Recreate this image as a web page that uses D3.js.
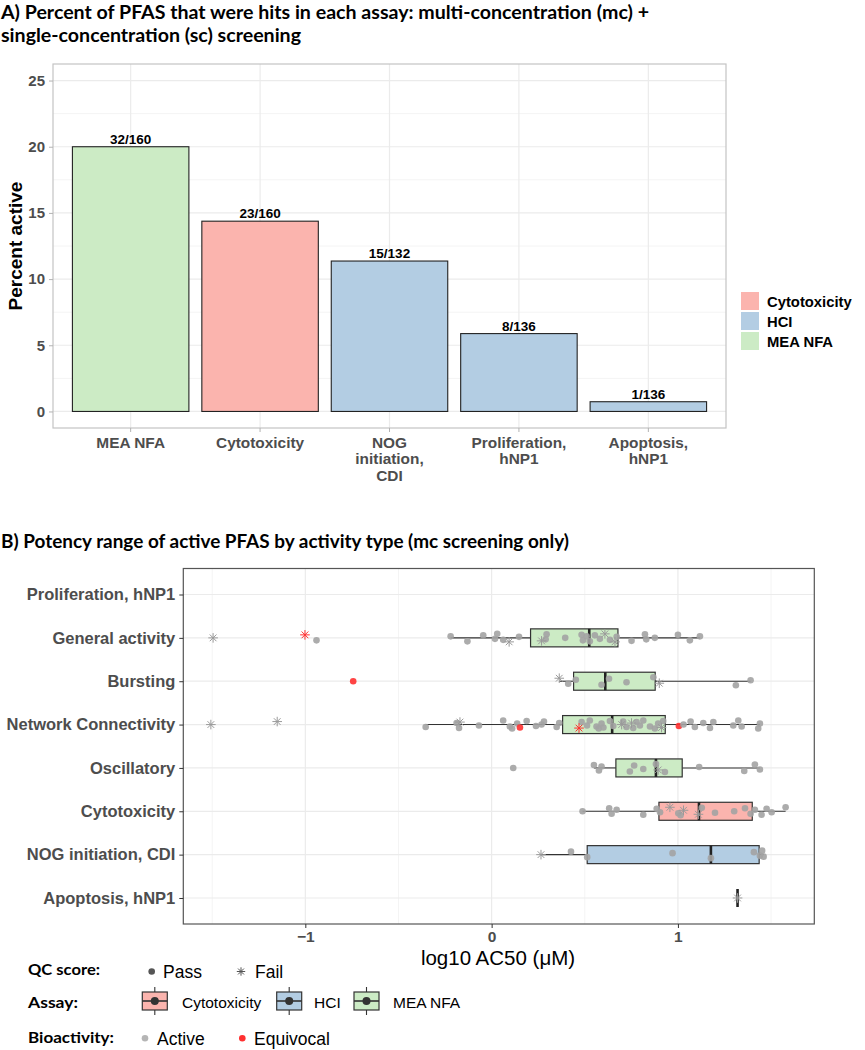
<!DOCTYPE html>
<html>
<head>
<meta charset="utf-8">
<script src="https://cdn.jsdelivr.net/npm/d3@7/dist/d3.min.js"></script>
<style>
  body { margin: 0; background: #fff; }
  svg { display: block; }
</style>
</head>
<body>
<svg id="chart" width="865" height="1050"></svg>
<script>
// ---- panel A data ----
const hitCategories = ['MEA NFA', 'Cytotoxicity', 'NOG initiation, CDI', 'Proliferation, hNP1', 'Apoptosis, hNP1']
const hitLabels = [['MEA NFA'], ['Cytotoxicity'], ['NOG', 'initiation,', 'CDI'], ['Proliferation,', 'hNP1'], ['Apoptosis,', 'hNP1']]
const hitCounts = [32, 23, 15, 8, 1]
const testedCounts = [160, 160, 132, 136, 136]
const hitAssay = ['MEA NFA', 'Cytotoxicity', 'HCI', 'HCI', 'HCI']
const percentTicks = [0, 5, 10, 15, 20, 25]

const assayNames = ['Cytotoxicity', 'HCI', 'MEA NFA']
const assayColors = ['#fbb4ae', '#b3cde3', '#ccebc5']

// ---- panel B data: [log10 AC50, QC (P/F), bioactivity (A/E)] ----
const rowCategories = ['Proliferation, hNP1', 'General activity', 'Bursting', 'Network Connectivity',
  'Oscillatory', 'Cytotoxicity', 'NOG initiation, CDI', 'Apoptosis, hNP1']
const rowAssay = ['HCI', 'MEA NFA', 'MEA NFA', 'MEA NFA', 'MEA NFA', 'Cytotoxicity', 'HCI', 'HCI']

const proliferation = []
const generalActivity = [
  [-1.495, 'F', 'A'], [-1.002, 'F', 'E'], [-0.94, 'P', 'A'], [-0.22, 'P', 'A'], [-0.13, 'P', 'A'],
  [-0.045, 'P', 'A'], [0.018, 'P', 'A'], [0.03, 'P', 'A'], [0.062, 'P', 'A'], [0.094, 'F', 'A'],
  [0.147, 'P', 'A'], [0.268, 'F', 'A'], [0.295, 'P', 'A'], [0.29, 'P', 'A'], [0.395, 'P', 'A'],
  [0.483, 'P', 'A'], [0.49, 'P', 'A'], [0.51, 'P', 'A'], [0.527, 'P', 'A'], [0.554, 'P', 'A'],
  [0.581, 'P', 'A'], [0.608, 'F', 'A'], [0.635, 'P', 'A'], [0.662, 'F', 'A'], [0.671, 'P', 'A'],
  [0.751, 'P', 'A'], [0.823, 'P', 'A'], [0.83, 'P', 'A'], [0.876, 'P', 'A'], [1.0, 'P', 'A'],
  [1.064, 'P', 'A'], [1.118, 'P', 'A']
]
const bursting = [
  [-0.743, 'P', 'E'], [0.363, 'F', 'A'], [0.411, 'P', 'A'], [0.452, 'P', 'A'], [0.59, 'P', 'A'],
  [0.63, 'P', 'A'], [0.724, 'P', 'A'], [0.868, 'P', 'A'], [0.9, 'F', 'A'], [1.311, 'P', 'A'], [1.39, 'P', 'A']
]
const networkConnectivity = [
  [-1.507, 'F', 'A'], [-1.151, 'F', 'A'], [-0.354, 'P', 'A'], [-0.188, 'P', 'A'], [-0.175, 'P', 'A'],
  [-0.17, 'F', 'A'], [-0.068, 'P', 'A'], [0.062, 'P', 'A'], [0.098, 'P', 'A'], [0.11, 'P', 'A'],
  [0.137, 'P', 'A'], [0.152, 'P', 'E'], [0.188, 'P', 'A'], [0.238, 'P', 'A'], [0.268, 'P', 'A'],
  [0.281, 'P', 'A'], [0.349, 'P', 'A'], [0.363, 'P', 'A'], [0.469, 'F', 'E'], [0.483, 'P', 'A'],
  [0.512, 'P', 'A'], [0.527, 'P', 'A'], [0.563, 'P', 'A'], [0.575, 'P', 'A'], [0.59, 'P', 'A'],
  [0.6, 'P', 'A'], [0.635, 'P', 'A'], [0.653, 'P', 'A'], [0.698, 'F', 'A'], [0.706, 'P', 'A'],
  [0.724, 'P', 'A'], [0.751, 'F', 'A'], [0.76, 'P', 'A'], [0.778, 'P', 'A'], [0.796, 'P', 'A'],
  [0.814, 'P', 'A'], [0.85, 'P', 'A'], [0.876, 'P', 'A'], [0.894, 'P', 'A'], [0.912, 'F', 'A'],
  [0.921, 'P', 'A'], [1.005, 'P', 'E'], [1.03, 'P', 'A'], [1.068, 'P', 'A'], [1.091, 'P', 'A'],
  [1.136, 'P', 'A'], [1.172, 'P', 'A'], [1.19, 'P', 'A'], [1.297, 'P', 'A'], [1.324, 'P', 'A'],
  [1.342, 'P', 'A'], [1.431, 'P', 'A'], [1.44, 'P', 'A']
]
const oscillatory = [
  [0.116, 'P', 'A'], [0.549, 'P', 'A'], [0.576, 'P', 'A'], [0.59, 'P', 'A'], [0.742, 'P', 'A'],
  [0.765, 'P', 'A'], [0.814, 'P', 'A'], [0.882, 'P', 'A'], [0.894, 'F', 'A'], [0.93, 'P', 'A'],
  [1.114, 'P', 'A'], [1.356, 'P', 'A'], [1.413, 'P', 'A'], [1.44, 'P', 'A']
]
const cytotoxicity = [
  [0.488, 'P', 'A'], [0.631, 'P', 'A'], [0.644, 'P', 'A'], [0.671, 'P', 'A'], [0.814, 'P', 'A'],
  [0.886, 'P', 'A'], [0.904, 'P', 'A'], [0.957, 'F', 'A'], [1.002, 'P', 'A'], [1.014, 'P', 'A'],
  [1.03, 'F', 'A'], [1.11, 'F', 'A'], [1.128, 'P', 'A'], [1.199, 'P', 'A'], [1.302, 'P', 'A'],
  [1.36, 'P', 'A'], [1.39, 'P', 'A'], [1.413, 'P', 'A'], [1.449, 'P', 'A'], [1.476, 'P', 'A'],
  [1.503, 'P', 'A'], [1.578, 'P', 'A']
]
const nogInitiation = [
  [0.265, 'F', 'A'], [0.426, 'P', 'A'], [0.513, 'P', 'A'], [0.971, 'P', 'A'], [1.177, 'P', 'A'],
  [1.408, 'P', 'A'], [1.44, 'P', 'A'], [1.452, 'P', 'A'], [1.46, 'P', 'A']
]
const apoptosis = [[1.32, 'F', 'A']]
const rowPoints = [proliferation, generalActivity, bursting, networkConnectivity, oscillatory, cytotoxicity, nogInitiation, apoptosis]

// box summaries (null = no box)
const boxQ1 = [null, 0.209, 0.44, 0.381, 0.667, 0.898, 0.513, 1.32]
const boxMedian = [null, 0.524, 0.61, 0.647, 0.882, 1.113, 1.177, 1.32]
const boxQ3 = [null, 0.678, 0.878, 0.932, 1.023, 1.399, 1.436, 1.32]
const whiskerLow = [null, -0.22, 0.363, -0.354, 0.549, 0.488, 0.265, 1.32]
const whiskerHigh = [null, 1.118, 1.39, 1.44, 1.44, 1.578, 1.46, 1.32]
const potencyTicks = [-1, 0, 1]
const potencyMinor = [-1.5, -0.5, 0.5, 1.5]

// ---- styling ----
const sans = '"Liberation Sans", Arial, sans-serif'
const titleFont = 'Lato, "Open Sans", sans-serif'
const gridMajor = '#ebebeb'
const gridMinor = '#f4f4f4'
const pointGrey = '#a3a3a3'
const equivocalRed = '#ff3030'
const jitterPattern = [0, -3, 2.5, -1.5, 3.5, -2.5, 1, -4, 2, 4, -1, 3, -3.5, 1.5]

const assayColor = d3.scaleOrdinal().domain(assayNames).range(assayColors)
const svg = d3.select('#chart')

// titles (Calibri-like bold)
function title(text, x, y, len) {
  svg.append('text').attr('x', x).attr('y', y)
    .attr('textLength', len).attr('lengthAdjust', 'spacingAndGlyphs')
    .style('font-family', titleFont).style('font-weight', 700).style('font-size', '19px').style('fill', '#000')
    .text(text)
}
title('A) Percent of PFAS that were hits in each assay: multi-concentration (mc) +', 1, 19, 648)
title('single-concentration (sc) screening', 1, 42, 300)
title('B) Potency range of active PFAS by activity type (mc screening only)', 1, 548, 568)

// ================= Panel A =================
const A = { left: 53, right: 726, top: 64, bottom: 428 }
const xA = d3.scaleBand().domain(hitCategories).range([A.left, A.right]).paddingInner(0.1).paddingOuter(0.15)
const yA = d3.scaleLinear().domain([-1.25, 26.25]).range([A.bottom, A.top])
const percents = hitCounts.map((h, i) => h / testedCounts[i] * 100)

const gA = svg.append('g')
gA.append('g').selectAll('line').data(d3.range(2.5, 25, 5))
  .enter().append('line')
  .attr('x1', A.left).attr('x2', A.right).attr('y1', d => yA(d)).attr('y2', d => yA(d))
  .style('stroke', gridMinor).style('stroke-width', 1)
gA.append('g').selectAll('line').data(percentTicks)
  .enter().append('line')
  .attr('x1', A.left).attr('x2', A.right).attr('y1', d => yA(d)).attr('y2', d => yA(d))
  .style('stroke', gridMajor).style('stroke-width', 1.2)
gA.append('g').selectAll('line').data(hitCategories)
  .enter().append('line')
  .attr('x1', d => xA(d) + xA.bandwidth() / 2).attr('x2', d => xA(d) + xA.bandwidth() / 2)
  .attr('y1', A.top).attr('y2', A.bottom)
  .style('stroke', gridMajor).style('stroke-width', 1.2)

gA.append('g').selectAll('rect').data(hitCategories)
  .enter().append('rect')
  .attr('x', d => xA(d)).attr('width', xA.bandwidth())
  .attr('y', (d, i) => yA(percents[i])).attr('height', (d, i) => yA(0) - yA(percents[i]))
  .style('fill', (d, i) => assayColor(hitAssay[i])).style('stroke', '#222').style('stroke-width', 1.1)

gA.append('g').selectAll('text').data(hitCategories)
  .enter().append('text')
  .attr('x', d => xA(d) + xA.bandwidth() / 2).attr('y', (d, i) => yA(percents[i]) - 3)
  .style('text-anchor', 'middle').style('font-family', sans).style('font-weight', 700).style('font-size', '13.5px')
  .text((d, i) => `${hitCounts[i]}/${testedCounts[i]}`)

gA.append('rect').attr('x', A.left).attr('y', A.top).attr('width', A.right - A.left).attr('height', A.bottom - A.top)
  .style('fill', 'none').style('stroke', '#c4c4c4').style('stroke-width', 1.2)

const axisLeftA = gA.append('g').attr('transform', `translate(${A.left},0)`)
  .call(d3.axisLeft(yA).tickValues(percentTicks).tickSize(4).tickPadding(4))
axisLeftA.select('.domain').remove()
axisLeftA.selectAll('line').style('stroke', '#b3b3b3')
axisLeftA.selectAll('text').style('font-family', sans).style('font-weight', 700).style('font-size', '15px').style('fill', '#4d4d4d')

const axisBottomA = gA.append('g').attr('transform', `translate(0,${A.bottom})`)
  .call(d3.axisBottom(xA).tickSize(4).tickFormat(''))
axisBottomA.select('.domain').remove()
axisBottomA.selectAll('line').style('stroke', '#b3b3b3')
axisBottomA.selectAll('.tick').append('text')
  .style('text-anchor', 'middle').style('font-family', sans).style('font-weight', 700).style('font-size', '15.4px').style('fill', '#4d4d4d')
  .selectAll('tspan').data((d, i) => hitLabels[i])
  .enter().append('tspan').attr('x', 0).attr('y', (d, j) => 19.5 + j * 16.5).text(d => d)

gA.append('text').attr('transform', `translate(22,${(A.top + A.bottom) / 2}) rotate(-90)`)
  .style('text-anchor', 'middle').style('font-family', sans).style('font-weight', 700).style('font-size', '19px')
  .text('Percent active')

// legend A
const legA = svg.append('g').attr('transform', 'translate(740,291)')
legA.selectAll('rect').data(assayNames)
  .enter().append('rect')
  .attr('x', 0.5).attr('y', (d, i) => i * 20 + 0.5).attr('width', 19).attr('height', 19)
  .style('fill', d => assayColor(d)).style('stroke', '#fff').style('stroke-width', 1)
legA.selectAll('text').data(assayNames)
  .enter().append('text')
  .attr('x', 27).attr('y', (d, i) => i * 20 + 15.5)
  .style('font-family', sans).style('font-weight', 700).style('font-size', '14.8px')
  .text(d => d)

// ================= Panel B =================
const B = { left: 183.3, right: 814.3, top: 568.5, bottom: 924 }
const xB = d3.scaleLinear().domain([-1.655, 1.732]).range([B.left, B.right])
const yB = d3.scalePoint().domain(rowCategories).range([B.top, B.bottom]).padding(0.6)
const boxH = 18

const gB = svg.append('g')
gB.append('g').selectAll('line').data(potencyMinor)
  .enter().append('line')
  .attr('x1', d => xB(d)).attr('x2', d => xB(d)).attr('y1', B.top).attr('y2', B.bottom)
  .style('stroke', gridMinor).style('stroke-width', 1)
gB.append('g').selectAll('line').data(potencyTicks)
  .enter().append('line')
  .attr('x1', d => xB(d)).attr('x2', d => xB(d)).attr('y1', B.top).attr('y2', B.bottom)
  .style('stroke', gridMajor).style('stroke-width', 1.2)
gB.append('g').selectAll('line').data(rowCategories)
  .enter().append('line')
  .attr('x1', B.left).attr('x2', B.right).attr('y1', d => yB(d)).attr('y2', d => yB(d))
  .style('stroke', gridMajor).style('stroke-width', 1.2)

// boxes
const rowsWithBox = rowCategories.map((c, i) => i).filter(i => boxQ1[i] !== null)
const boxG = gB.append('g').selectAll('g').data(rowsWithBox).enter().append('g')
boxG.append('line')
  .attr('x1', i => xB(whiskerLow[i])).attr('x2', i => xB(boxQ1[i]))
  .attr('y1', i => yB(rowCategories[i])).attr('y2', i => yB(rowCategories[i]))
  .style('stroke', '#333').style('stroke-width', 1.1)
boxG.append('line')
  .attr('x1', i => xB(boxQ3[i])).attr('x2', i => xB(whiskerHigh[i]))
  .attr('y1', i => yB(rowCategories[i])).attr('y2', i => yB(rowCategories[i]))
  .style('stroke', '#333').style('stroke-width', 1.1)
boxG.append('rect')
  .attr('x', i => xB(boxQ1[i])).attr('width', i => xB(boxQ3[i]) - xB(boxQ1[i]))
  .attr('y', i => yB(rowCategories[i]) - boxH / 2).attr('height', boxH)
  .style('fill', i => assayColor(rowAssay[i])).style('stroke', '#333').style('stroke-width', 1.2)
boxG.append('line')
  .attr('x1', i => xB(boxMedian[i])).attr('x2', i => xB(boxMedian[i]))
  .attr('y1', i => yB(rowCategories[i]) - boxH / 2).attr('y2', i => yB(rowCategories[i]) + boxH / 2)
  .style('stroke', '#222').style('stroke-width', 2.6)

// points
const points = []
rowPoints.forEach((set, r) => set.forEach((p, k) => points.push({ row: rowCategories[r], v: p[0], qc: p[1], bio: p[2], k })))
const px = d => xB(d.v)
const py = d => yB(d.row) + jitterPattern[d.k % jitterPattern.length]
const starPath = s => `M${-s},0H${s}M0,${-s}V${s}M${-s * 0.7},${-s * 0.7}L${s * 0.7},${s * 0.7}M${-s * 0.7},${s * 0.7}L${s * 0.7},${-s * 0.7}`

gB.append('g').selectAll('circle').data(points.filter(d => d.qc === 'P'))
  .enter().append('circle')
  .attr('cx', px).attr('cy', py).attr('r', 3.3)
  .style('fill', d => d.bio === 'E' ? equivocalRed : pointGrey).style('opacity', 0.9)
gB.append('g').selectAll('path').data(points.filter(d => d.qc === 'F'))
  .enter().append('path')
  .attr('transform', d => `translate(${px(d)},${py(d)})`).attr('d', starPath(4.8))
  .style('fill', 'none').style('stroke', d => d.bio === 'E' ? equivocalRed : '#9a9a9a').style('stroke-width', 1)

gB.append('rect').attr('x', B.left).attr('y', B.top).attr('width', B.right - B.left).attr('height', B.bottom - B.top)
  .style('fill', 'none').style('stroke', '#555').style('stroke-width', 1.2)

const axisLeftB = gB.append('g').attr('transform', `translate(${B.left},0)`)
  .call(d3.axisLeft(yB).tickSize(4).tickPadding(4))
axisLeftB.select('.domain').remove()
axisLeftB.selectAll('line').style('stroke', '#333')
axisLeftB.selectAll('text').style('font-family', sans).style('font-weight', 700).style('font-size', '16.5px').style('fill', '#4d4d4d')

const axisBottomB = gB.append('g').attr('transform', `translate(0,${B.bottom})`)
  .call(d3.axisBottom(xB).tickValues(potencyTicks).tickSize(4).tickPadding(3).tickFormat(d3.format('d')))
axisBottomB.select('.domain').remove()
axisBottomB.selectAll('line').style('stroke', '#333')
axisBottomB.selectAll('text').style('font-family', sans).style('font-weight', 700).style('font-size', '15.5px').style('fill', '#4d4d4d')

gB.append('text').attr('x', 498).attr('y', 965)
  .style('text-anchor', 'middle').style('font-family', sans).style('font-size', '20.5px')
  .text('log10 AC50 (μM)')

// bottom legend
function legendTitle(text, y, len) {
  svg.append('text').attr('x', 28).attr('y', y)
    .attr('textLength', len).attr('lengthAdjust', 'spacingAndGlyphs')
    .style('font-family', titleFont).style('font-weight', 700).style('font-size', '16px')
    .text(text)
}
function legendLabel(text, x, y, size) {
  svg.append('text').attr('x', x).attr('y', y)
    .style('font-family', sans).style('font-size', size)
    .text(text)
}
legendTitle('QC score:', 975, 72)
legendTitle('Assay:', 1008, 50)
legendTitle('Bioactivity:', 1043, 86)

svg.append('circle').attr('cx', 151.7).attr('cy', 971.5).attr('r', 3.3).style('fill', '#555')
legendLabel('Pass', 163, 978, '17.5px')
svg.append('path').attr('transform', 'translate(241,971.5)').attr('d', starPath(4.2))
  .style('fill', 'none').style('stroke', '#555').style('stroke-width', 1)
legendLabel('Fail', 255, 978, '17.5px')

const assayKeyX = [142.3, 276.7, 354]
const assayLabelX = [182, 314, 393]
assayNames.forEach((name, i) => {
  const g = svg.append('g').attr('transform', `translate(${assayKeyX[i]},1001)`)
  g.append('line').attr('x1', 12.5).attr('x2', 12.5).attr('y1', -14).attr('y2', 14).style('stroke', '#333').style('stroke-width', 1.1)
  g.append('rect').attr('x', 0).attr('y', -9).attr('width', 25).attr('height', 18)
    .style('fill', assayColor(name)).style('stroke', '#333').style('stroke-width', 1.2)
  g.append('line').attr('x1', 0).attr('x2', 25).attr('y1', 0).attr('y2', 0).style('stroke', '#333').style('stroke-width', 1.6)
  g.append('circle').attr('cx', 12.5).attr('cy', 0).attr('r', 4).style('fill', '#333')
  legendLabel(name, assayLabelX[i], 1007.5, '15.5px')
})

svg.append('circle').attr('cx', 145).attr('cy', 1038.3).attr('r', 3.3).style('fill', '#b5b5b5')
legendLabel('Active', 157, 1045, '17.5px')
svg.append('circle').attr('cx', 242.3).attr('cy', 1038.3).attr('r', 3.3).style('fill', equivocalRed)
legendLabel('Equivocal', 254, 1045, '17.5px')
</script>
</body>
</html>
